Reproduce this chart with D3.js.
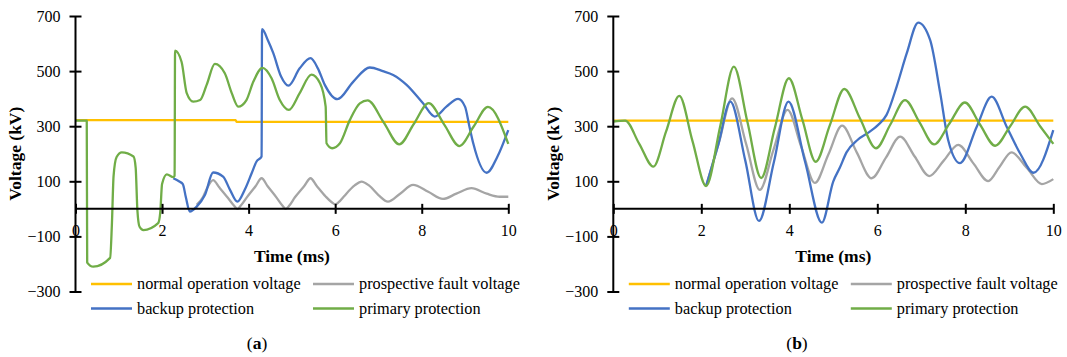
<!DOCTYPE html>
<html><head><meta charset="utf-8">
<script src="https://cdn.jsdelivr.net/npm/d3@7"></script>
<style>
html,body{margin:0;padding:0;background:#fff;}
text{font-family:"Liberation Serif","Times New Roman",serif;fill:#000;}
</style></head>
<body>
<svg id="chart" width="1067" height="357"></svg>
<script>
// ---------- data ----------
const xTicks = [0, 2, 4, 6, 8, 10];
const yTicks = [-300, -100, 100, 300, 500, 700];
const seriesNames = ["normal operation voltage", "prospective fault voltage", "backup protection", "primary protection"];
const panelLabels = ["a", "b"];
const xTitle = "Time (ms)";
const yTitle = "Voltage (kV)";

// panel (a)  [time ms, voltage kV]
const aNormal = [[0,322],[3.7,322],[3.72,316],[10,316]];
const aFault = [[2.8,15],[2.95,44],[3.05,78],[3.18,104],[3.32,78],[3.52,40],[3.66,12],[3.74,0],[3.82,12],[3.95,40],[4.16,82],[4.30,111],[4.44,82],[4.65,40],[4.78,12],[4.86,0],[4.94,12],[5.07,42],[5.29,84],[5.43,111],[5.57,84],[5.78,45],[5.92,24],[6.0,16],[6.08,24],[6.2,45],[6.45,85],[6.61,99],[6.78,85],[7.0,50],[7.22,26],[7.5,55],[7.8,87],[8.15,62],[8.49,36],[8.8,55],[9.15,75],[9.5,55],[9.8,44],[10,44]];
const aBackup = [[2.26,111],[2.40,99],[2.48,90],[2.55,42],[2.64,-10],[2.8,8],[2.99,50],[3.18,132],[3.41,117],[3.57,69],[3.74,26],[3.91,69],[4.07,129],[4.18,171],[4.30,190],[4.31,652],[4.45,610],[4.57,565],[4.75,480],[4.92,447],[5.18,510],[5.43,547],[5.6,510],[5.76,450],[6.05,398],[6.42,462],[6.80,513],[7.1,500],[7.34,486],[7.65,450],[8.03,383],[8.30,335],[8.57,371],[8.84,399],[9.0,371],[9.1,300],[9.19,238],[9.50,131],[9.75,190],[10,286]];
const aPrimary = [[0,320],[0.26,320],[0.27,-195],[0.41,-210],[0.8,-178],[0.84,-60],[0.88,120],[0.95,188],[1.07,205],[1.34,190],[1.39,150],[1.43,-5],[1.48,-65],[1.57,-77],[1.91,-52],[1.96,-10],[2.0,90],[2.11,125],[2.26,115],[2.29,120],[2.30,574],[2.45,534],[2.57,420],[2.72,389],[2.88,395],[3.03,450],[3.22,526],[3.45,492],[3.61,420],[3.76,371],[3.95,395],[4.11,462],[4.32,512],[4.53,474],[4.72,395],[4.93,359],[5.18,420],[5.45,487],[5.65,456],[5.78,371],[5.8,238],[5.93,220],[6.11,238],[6.34,323],[6.57,383],[6.75,394],[7.12,314],[7.48,234],[7.82,309],[8.16,384],[8.52,306],[8.87,228],[9.2,299],[9.53,370],[10,236]];

// panel (b)
const bNormal = [[0,320],[10,320]];
const bFault = [[2.11,83],[2.4,240],[2.70,401],[3.02,235],[3.33,69],[3.64,214],[3.96,359],[4.27,226],[4.58,94],[4.89,198],[5.2,302],[5.53,206],[5.87,111],[6.2,187],[6.52,262],[6.85,190],[7.18,119],[7.51,175],[7.84,232],[8.18,166],[8.52,101],[8.78,153],[9.05,205],[9.4,148],[9.74,90],[10,108]];
const bBackup = [[2.11,83],[2.39,236],[2.66,389],[3.0,175],[3.31,-44],[3.65,170],[3.98,389],[4.36,170],[4.74,-50],[5.0,100],[5.15,150],[5.3,205],[5.55,250],[5.83,280],[6.02,305],[6.21,341],[6.44,444],[6.67,565],[6.93,676],[7.2,613],[7.43,420],[7.61,250],[7.88,166],[8.26,298],[8.6,407],[8.94,298],[9.25,200],[9.55,131],[10,286]];
const bPrimary = [[0,317],[0.27,320],[0.59,236],[0.91,153],[1.2,281],[1.50,410],[1.8,246],[2.11,83],[2.43,300],[2.74,516],[3.05,314],[3.36,112],[3.67,293],[3.99,474],[4.3,322],[4.60,171],[4.92,303],[5.25,435],[5.61,327],[5.97,220],[6.3,307],[6.63,395],[6.96,314],[7.29,234],[7.64,310],[7.99,386],[8.33,307],[8.68,229],[9.02,300],[9.36,371],[9.7,300],[10,236]];

const colors = ["#FFC000", "#A5A5A5", "#4472C4", "#70AD47"];

// ---------- drawing ----------
const svg = d3.select("#chart");
const panels = [
  {x0: 75.5, x1: 508.3, ytx: 15, lab: 257, data: [aNormal, aFault, aBackup, aPrimary]},
  {x0: 613.3, x1: 1053.3, ytx: 553, lab: 797, data: [bNormal, bFault, bBackup, bPrimary]}
];

panels.forEach((p, pi) => {
  const x = d3.scaleLinear().domain([0, 10]).range([p.x0, p.x1]);
  const y = d3.scaleLinear().domain([-300, 700]).range([291.5, 16]);
  const g = svg.append("g");

  // series
  const line = d3.line().x(d => x(d[0])).y(d => y(d[1])).curve(d3.curveMonotoneX);
  p.data.forEach((s, i) => {
    g.append("path").datum(s).attr("d", line)
      .attr("fill", "none").attr("stroke", colors[i]).attr("stroke-width", 2.3)
      .attr("stroke-linejoin", "round");
  });

  // y axis
  const ya = g.append("g").attr("transform", `translate(${x(0)},0)`)
    .call(d3.axisLeft(y).tickValues(yTicks).tickSize(6).tickPadding(9));
  ya.select(".domain").remove();
  ya.selectAll(".tick line").attr("x1", -6).attr("x2", 6).attr("stroke", "#000").attr("stroke-width", 2);
  ya.selectAll(".tick text").attr("font-size", 16).attr("font-family", "Liberation Serif").attr("fill", "#000");
  g.append("line").attr("x1", x(0)).attr("x2", x(0)).attr("y1", y(700)).attr("y2", y(-300))
    .attr("stroke", "#000").attr("stroke-width", 2);

  // x axis
  const xa = g.append("g").attr("transform", `translate(0,${y(0)})`)
    .call(d3.axisBottom(x).tickValues(xTicks).tickSize(5));
  xa.select(".domain").remove();
  xa.selectAll(".tick line").attr("y1", -5).attr("y2", 5).attr("stroke", "#000").attr("stroke-width", 2);
  xa.selectAll(".tick text").attr("y", 27.5).attr("dy", 0).attr("font-size", 16)
    .attr("font-family", "Liberation Serif").attr("fill", "#000");
  g.append("line").attr("x1", x(0)).attr("x2", x(10)).attr("y1", y(0)).attr("y2", y(0))
    .attr("stroke", "#000").attr("stroke-width", 2);

  // titles
  g.append("text").attr("x", (x(0) + x(10)) / 2).attr("y", 262).attr("text-anchor", "middle")
    .attr("font-size", 17.5).attr("font-weight", "bold").text(xTitle);
  g.append("text").attr("transform", `translate(${p.ytx},${(y(700) + y(-300)) / 2}) rotate(-90)`)
    .attr("text-anchor", "middle").attr("dy", "0.35em")
    .attr("font-size", 17.5).attr("font-weight", "bold").text(yTitle);

  // legend
  const lx = [p.x0 + 15.5, p.x0 + 237.5];
  const ly = [284, 308.5];
  seriesNames.forEach((name, i) => {
    const cx = lx[i % 2], cy = ly[Math.floor(i / 2)];
    g.append("line").attr("x1", cx).attr("x2", cx + 41).attr("y1", cy).attr("y2", cy)
      .attr("stroke", colors[i]).attr("stroke-width", 2.3);
    g.append("text").attr("x", cx + 46).attr("y", cy).attr("dy", "0.32em")
      .attr("font-size", 16.3).text(name);
  });

  // panel label
  const pl = g.append("text").attr("x", p.lab).attr("y", 349).attr("text-anchor", "middle").attr("font-size", 17.5);
  pl.append("tspan").text("(");
  pl.append("tspan").attr("font-weight", "bold").text(panelLabels[pi]);
  pl.append("tspan").text(")");
});
</script>
</body></html>
